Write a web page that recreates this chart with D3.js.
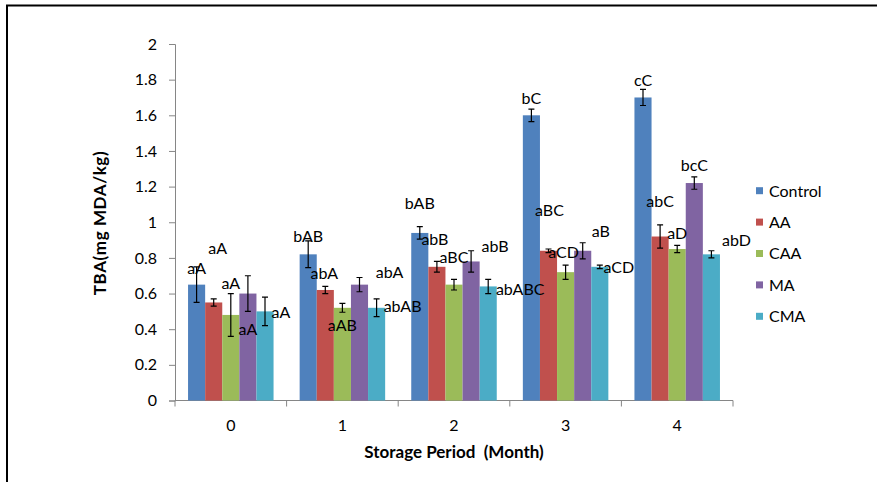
<!DOCTYPE html>
<html>
<head>
<meta charset="utf-8">
<script src="https://cdn.jsdelivr.net/npm/d3@7"></script>
<style>
  body { margin: 0; background: #fff; }
  svg { display: block; font-family: Lato, "Open Sans", sans-serif; }
  .axis path, .axis line { stroke: #868686; }
  .axis text { font-size: 16px; fill: #000; font-family: Lato, sans-serif; }
  .title { white-space: pre; }
</style>
</head>
<body>
<svg id="tba" width="877" height="482"></svg>
<script>
var categories = ["0", "1", "2", "3", "4"];
var series = ["Control", "AA", "CAA", "MA", "CMA"];
var colors = ["#4F81BD", "#C0504D", "#9BBB59", "#8064A2", "#4BACC6"];

var control = [0.65, 0.82, 0.94, 1.60, 1.70];
var aa = [0.55, 0.62, 0.75, 0.84, 0.92];
var caa = [0.48, 0.52, 0.65, 0.72, 0.85];
var ma = [0.60, 0.65, 0.78, 0.84, 1.22];
var cma = [0.50, 0.52, 0.64, 0.75, 0.82];

var controlErr = [0.10, 0.075, 0.035, 0.035, 0.045];
var aaErr = [0.02, 0.02, 0.03, 0.01, 0.065];
var caaErr = [0.12, 0.025, 0.03, 0.04, 0.02];
var maErr = [0.10, 0.04, 0.06, 0.045, 0.035];
var cmaErr = [0.08, 0.05, 0.04, 0.01, 0.02];

var controlLbl = ["aA", "bAB", "bAB", "bC", "cC"];
var aaLbl = ["aA", "abA", "abB", "aBC", "abC"];
var caaLbl = ["aA", "aAB", "aBC", "aCD", "aD"];
var maLbl = ["aA", "abA", "abB", "aB", "bcC"];
var cmaLbl = ["aA", "abAB", "abABC", "aCD", "abD"];

var yTicks = [0, 0.2, 0.4, 0.6, 0.8, 1, 1.2, 1.4, 1.6, 1.8, 2];

// where excel left each data label, relative to the bar top (px)
var labelShift = [
  [[0, -11], [4, -48], [0, -26], [0, 41], [16, 7]],
  [[0, -12], [-1, -11], [0, 23], [30, -7], [26, 4]],
  [[0, -24], [-2, -22], [0, -22], [24, -9], [32, 9]],
  [[0, -11], [1, -35], [-2, -14], [18, -14], [19, 6]],
  [[0, -11], [0, -30], [0, -10], [0, -12], [25, -8]]
];

var values = [control, aa, caa, ma, cma],
  errs = [controlErr, aaErr, caaErr, maErr, cmaErr],
  lbls = [controlLbl, aaLbl, caaLbl, maLbl, cmaLbl];

var data = [];
categories.forEach(function (c, i) {
  series.forEach(function (s, j) {
    data.push({ cat: c, key: s, i: i, j: j, value: values[j][i], err: errs[j][i], label: lbls[j][i] });
  });
});

var svg = d3.select("#tba");

// frame round the picture
svg.append("rect")
  .attr("x", 7).attr("y", 5.5)
  .attr("width", 900).attr("height", 500)
  .attr("fill", "none")
  .attr("stroke", "#000")
  .attr("stroke-width", 2);

var x0 = d3.scaleBand().domain(categories).range([175, 733]).padding(0),
  x1 = d3.scaleBand().domain(series).range([0, x0.bandwidth()]).paddingInner(0).paddingOuter(0.763),
  y = d3.scaleLinear().domain([0, 2]).range([400.5, 44]);

var color = d3.scaleOrdinal().domain(series).range(colors);

svg.append("g")
  .attr("class", "axis axis--y")
  .attr("transform", "translate(175,0)")
  .call(d3.axisLeft(y).tickValues(yTicks).tickSize(6).tickPadding(12)
    .tickFormat(function (d) { return +d.toFixed(1); }));

var gx = svg.append("g")
  .attr("class", "axis axis--x")
  .attr("transform", "translate(0," + y(0) + ")")
  .call(d3.axisBottom(x0).tickSize(0).tickPadding(19));
gx.select(".domain").attr("d", "M175,0H733");

// excel puts the category ticks between the groups
gx.selectAll(".sep")
  .data(categories.concat(["end"]))
  .enter().append("line")
  .attr("class", "sep")
  .attr("x1", function (d, i) { return i < categories.length ? x0(d) : x0(categories[i - 1]) + x0.bandwidth(); })
  .attr("x2", function (d, i) { return i < categories.length ? x0(d) : x0(categories[i - 1]) + x0.bandwidth(); })
  .attr("y1", 0).attr("y2", 6)
  .attr("stroke", "#868686");

svg.append("text")
  .attr("class", "title")
  .attr("x", 454).attr("y", 458)
  .attr("text-anchor", "middle")
  .attr("font-size", 17).attr("font-weight", "bold")
  .text("Storage Period  (Month)");

svg.append("text")
  .attr("class", "title")
  .attr("transform", "translate(106,223) rotate(-90)")
  .attr("text-anchor", "middle")
  .attr("font-size", 17).attr("font-weight", "bold")
  .attr("letter-spacing", 0.6)
  .text("TBA(mg MDA/kg)");

function bx(d) { return x0(d.cat) + x1(d.key); }
var cx = x1.bandwidth() / 2;

svg.append("g").selectAll(".bar")
  .data(data)
  .enter().append("rect")
  .attr("class", "bar")
  .attr("x", bx)
  .attr("y", function (d) { return y(d.value); })
  .attr("width", x1.bandwidth())
  .attr("height", function (d) { return y(0) - y(d.value); })
  .attr("fill", function (d) { return color(d.key); });

svg.append("g").selectAll(".err")
  .data(data)
  .enter().append("path")
  .attr("class", "err")
  .attr("d", function (d) {
    var m = bx(d) + cx, t = y(d.value + d.err), b = y(d.value - d.err);
    return "M" + m + "," + t + "V" + b + "M" + (m - 3) + "," + t + "H" + (m + 3) + "M" + (m - 3) + "," + b + "H" + (m + 3);
  })
  .attr("stroke", "#000")
  .attr("stroke-width", 1.2)
  .attr("fill", "none");

svg.append("g").selectAll(".lbl")
  .data(data)
  .enter().append("text")
  .attr("class", "lbl")
  .attr("x", function (d) { return bx(d) + cx + labelShift[d.i][d.j][0]; })
  .attr("y", function (d) { return y(d.value) + labelShift[d.i][d.j][1]; })
  .attr("text-anchor", "middle")
  .attr("font-size", 16)
  .attr("fill", "#000")
  .text(function (d) { return d.label; });

var legend = svg.append("g").selectAll("g")
  .data(series)
  .enter().append("g")
  .attr("transform", function (d, i) { return "translate(756," + (190.7 + i * 31.4) + ")"; });

legend.append("rect")
  .attr("x", 0).attr("y", -3.5)
  .attr("width", 7).attr("height", 7)
  .attr("fill", function (d) { return color(d); });

legend.append("text")
  .attr("x", 13).attr("y", 5.8)
  .attr("font-size", 16)
  .text(function (d) { return d; });
</script>
</body>
</html>
